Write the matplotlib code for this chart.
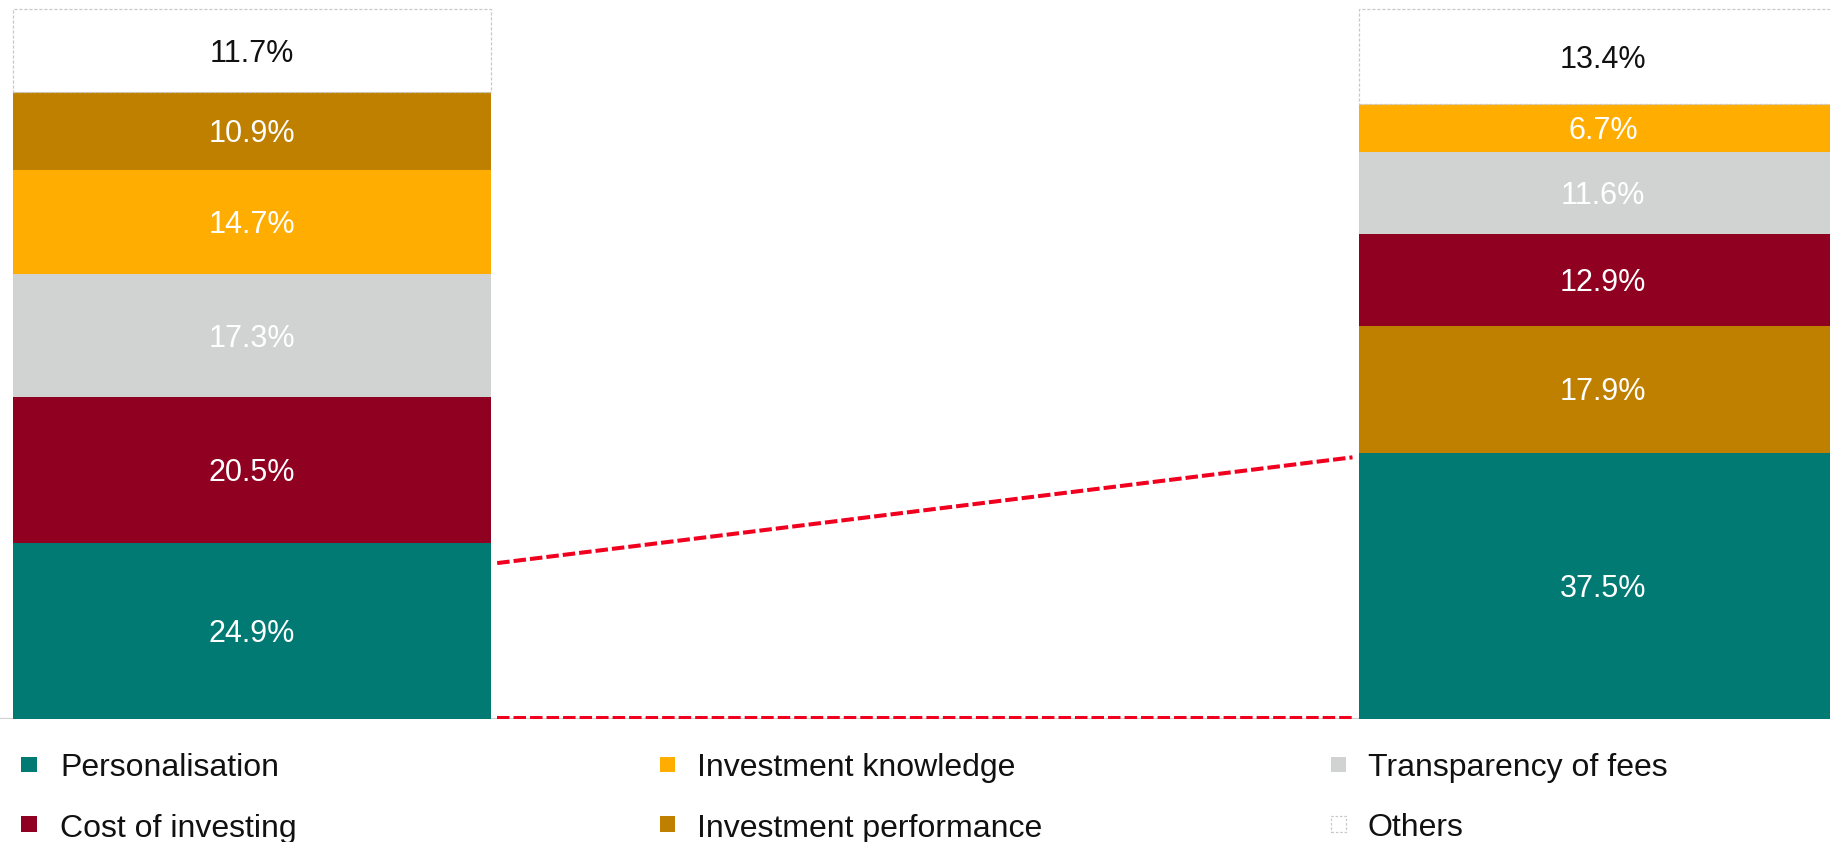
import matplotlib
matplotlib.use("Agg")
import matplotlib.pyplot as plt
from matplotlib.patches import Rectangle

plt.rcParams["font.family"] = ["Liberation Sans", "DejaVu Sans"]

# Share of respondents naming each factor (%), two survey waves
categories = ["Personalisation", "Cost of investing", "Transparency of fees",
              "Investment knowledge", "Investment performance", "Others"]
wave_1 = [24.9, 20.5, 17.3, 14.7, 10.9, 11.7]
wave_2 = [37.5, 12.9, 11.6, 6.7, 17.9, 13.4]

# Levels (%) where the red dashed guide line starts and ends
guide_levels = [22.0, 36.9]

colors = {
    "Personalisation": "#007A73",
    "Cost of investing": "#900020",
    "Transparency of fees": "#D1D3D2",
    "Investment knowledge": "#FFAD00",
    "Investment performance": "#BF8000",
    "Others": "#FFFFFF",
}

# Legend layout: three columns, two rows
legend_order = [["Personalisation", "Cost of investing"],
                ["Investment knowledge", "Investment performance"],
                ["Transparency of fees", "Others"]]

W, H = 1831, 842
fig = plt.figure(figsize=(W / 100, H / 100), dpi=100)
base_px = 719.3
ax = fig.add_axes([0, 1 - base_px / H, 1, base_px / H])
left_center_px = 251.7
px_per_unit = 1351.3
ax.set_xlim(-left_center_px / px_per_unit, (W - left_center_px) / px_per_unit)
ax.set_ylim(0, base_px / 7.10)
ax.axis("off")

bar_widths = [478 / px_per_unit, 488 / px_per_unit]
label_size = 22
legend_size = 23

for pos, values in enumerate([wave_1, wave_2]):
    pairs = list(zip(categories, values))
    main = sorted([p for p in pairs if p[0] != "Others"], key=lambda p: -p[1])
    stack = main + [p for p in pairs if p[0] == "Others"]
    bottom = 0.0
    for name, val in stack:
        if name == "Others":
            ax.bar(pos, val, bottom=bottom, width=bar_widths[pos], color="white",
                   edgecolor="#C8C8C8", linewidth=0.9, linestyle=(0, (2.5, 1.5)),
                   zorder=2)
            tcolor = "#111111"
        else:
            ax.bar(pos, val, bottom=bottom, width=bar_widths[pos],
                   color=colors[name], linewidth=0, zorder=2)
            tcolor = "white"
        ax.annotate(f"{val:.1f}%", (pos, bottom + val / 2), xytext=(0, -7.9),
                    textcoords="offset points", ha="center", va="baseline",
                    fontsize=label_size, color=tcolor, zorder=4)
        bottom += val

# Baseline
ax.axhline(0, color="#D0D0D0", linewidth=1.6, zorder=1)

# Red dashed guide lines between the bars
gap = 6.5 / px_per_unit
x0 = 0 + bar_widths[0] / 2 + gap
x1 = 1 - bar_widths[1] / 2 - gap
ax.plot([x0, x1], guide_levels, color="#F0001E", linewidth=2.9,
        dashes=(3.1, 1.0), solid_capstyle="butt", zorder=3)
ax.plot([x0, x1], [0.15, 0.15], color="#F0001E", linewidth=2.9,
        dashes=(3.1, 1.0), solid_capstyle="butt", zorder=3)

# Legend drawn in figure pixels
col_marker_x = [21, 660, 1331]
col_text_x = [60, 697, 1368]
row_marker_cy = [764.5, 824.0]
row_baseline = [776.0, 836.5]
msize = 15.5
for c, col in enumerate(legend_order):
    for r, name in enumerate(col):
        mx = col_marker_x[c]
        my = row_marker_cy[r] + msize / 2
        if name == "Others":
            rect = Rectangle((mx / W, 1 - my / H), msize / W, msize / H,
                             transform=fig.transFigure, facecolor="white",
                             edgecolor="#C8C8C8", linewidth=0.9,
                             linestyle=(0, (2, 1.5)))
        else:
            rect = Rectangle((mx / W, 1 - my / H), msize / W, msize / H,
                             transform=fig.transFigure, facecolor=colors[name],
                             linewidth=0)
        fig.add_artist(rect)
        fig.text(col_text_x[c] / W, 1 - row_baseline[r] / H, name,
                 va="baseline", ha="left", fontsize=legend_size, color="#111111")

fig.savefig("out.png", dpi=100)
